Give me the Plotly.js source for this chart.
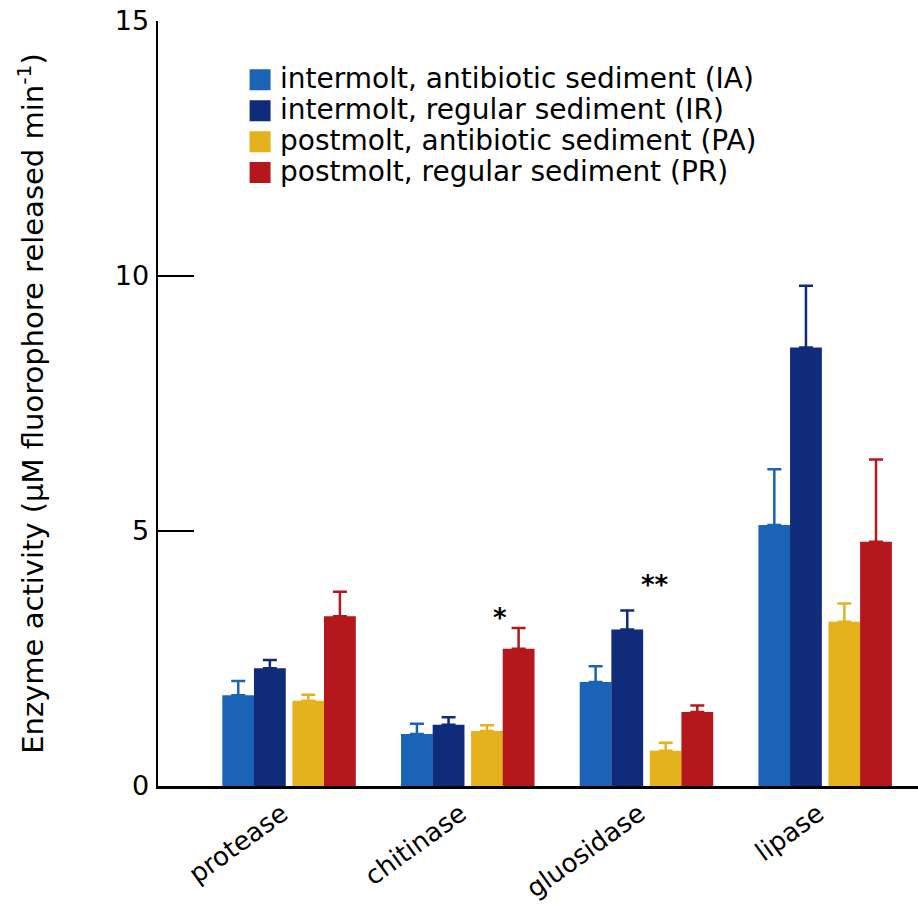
<!DOCTYPE html>
<html>
<head>
<meta charset="utf-8">
<script src="https://cdn.plot.ly/plotly-3.0.1.min.js"></script>
<style>html,body{margin:0;padding:0;background:#fff;}</style>
</head>
<body>
<div id="chart" style="width:918px;height:904px;"></div>
<script>
// ---- data ----
var enzymes = ["protease", "chitinase", "gluosidase", "lipase"];

var seriesNames = [
  "intermolt, antibiotic sediment (IA)",
  "intermolt, regular sediment (IR)",
  "postmolt, antibiotic sediment (PA)",
  "postmolt, regular sediment (PR)"
];

var iaValues = [1.78, 1.02, 2.04, 5.12];
var iaErr    = [0.28, 0.20, 0.31, 1.09];
var irValues = [2.31, 1.20, 3.07, 8.60];
var irErr    = [0.16, 0.15, 0.37, 1.21];
var paValues = [1.67, 1.08, 0.69, 3.22];
var paErr    = [0.12, 0.11, 0.16, 0.36];
var prValues = [3.33, 2.69, 1.45, 4.79];
var prErr    = [0.48, 0.41, 0.13, 1.61];

var yTickVals = [0, 5, 10, 15];
var yTickText = ["0", "5", "10", "15"];

var sigLabels = ["*", "**"];
var sigX = [1.18, 2.05];
var sigY = [3.30, 3.95];

// ---- styling ----
var colors = ["#1a63b7", "#0f2b7a", "#e5b11c", "#b4171c"];
var barWidth = 0.178;
var offsets = [-0.373, -0.196, 0.019, 0.196];
var FONT = "DejaVu Sans, Liberation Sans, Arial, sans-serif";

var values = [iaValues, irValues, paValues, prValues];
var errs = [iaErr, irErr, paErr, prErr];

var traces = values.map(function (v, i) {
  return {
    type: "bar",
    name: seriesNames[i],
    showlegend: false,
    x: enzymes,
    y: v,
    width: barWidth,
    offset: offsets[i],
    marker: { color: colors[i], line: { width: 0 } },
    error_y: {
      type: "data",
      symmetric: false,
      array: errs[i],
      arrayminus: v.map(function () { return 0; }),
      color: colors[i],
      thickness: 2.5,
      width: 7
    },
    hoverinfo: "none"
  };
});

// legend entries (square swatches) for the four series
var legendTraces = seriesNames.map(function (n, i) {
  return {
    type: "scatter",
    mode: "markers",
    name: '<span style="font-size:28px">' + n + '</span>',
    x: [null],
    y: [null],
    marker: { symbol: "square", size: 16, color: colors[i], line: { width: 5, color: colors[i] } },
    hoverinfo: "none"
  };
});

var annotations = sigLabels.map(function (t, i) {
  return {
    x: sigX[i], y: sigY[i], xref: "x", yref: "y",
    text: "<b>" + t + "</b>", showarrow: false,
    font: { family: FONT, size: 26, color: "#000" },
    xanchor: "center", yanchor: "middle"
  };
});

var layout = {
  width: 918,
  height: 904,
  margin: { l: 158, r: 0, t: 21, b: 118, pad: 0 },
  paper_bgcolor: "#ffffff",
  plot_bgcolor: "#ffffff",
  barmode: "overlay",
  showlegend: true,
  legend: {
    x: 0.108, y: 0.95, xanchor: "left", yanchor: "top",
    bgcolor: "rgba(0,0,0,0)",
    font: { family: FONT, size: 21.5, color: "#000" },
    itemsizing: "trace",
    traceorder: "normal"
  },
  xaxis: {
    type: "category",
    range: [-0.733, 3.52],
    showline: true, linecolor: "#000", linewidth: 2.5,
    showgrid: false, zeroline: false,
    ticks: "",
    tickangle: -36,
    ticklabelshift: -7,
    tickfont: { family: FONT, size: 26, color: "#000" },
    fixedrange: true
  },
  yaxis: {
    range: [0, 15],
    tickvals: yTickVals,
    ticktext: yTickText,
    ticks: "inside", ticklen: 36, tickwidth: 2, tickcolor: "#000",
    showline: true, linecolor: "#000", linewidth: 2.5,
    showgrid: false, zeroline: false,
    tickfont: { family: FONT, size: 27, color: "#000" },
    ticklabelstandoff: 1,
    title: {
      text: "Enzyme activity (µM fluorophore released min<sup>-1</sup>)",
      font: { family: FONT, size: 29, color: "#000" },
      standoff: 63
    },
    automargin: false,
    fixedrange: true
  },
  annotations: annotations
};

Plotly.newPlot("chart", traces.concat(legendTraces), layout, { displayModeBar: false, staticPlot: true });
</script>
</body>
</html>
